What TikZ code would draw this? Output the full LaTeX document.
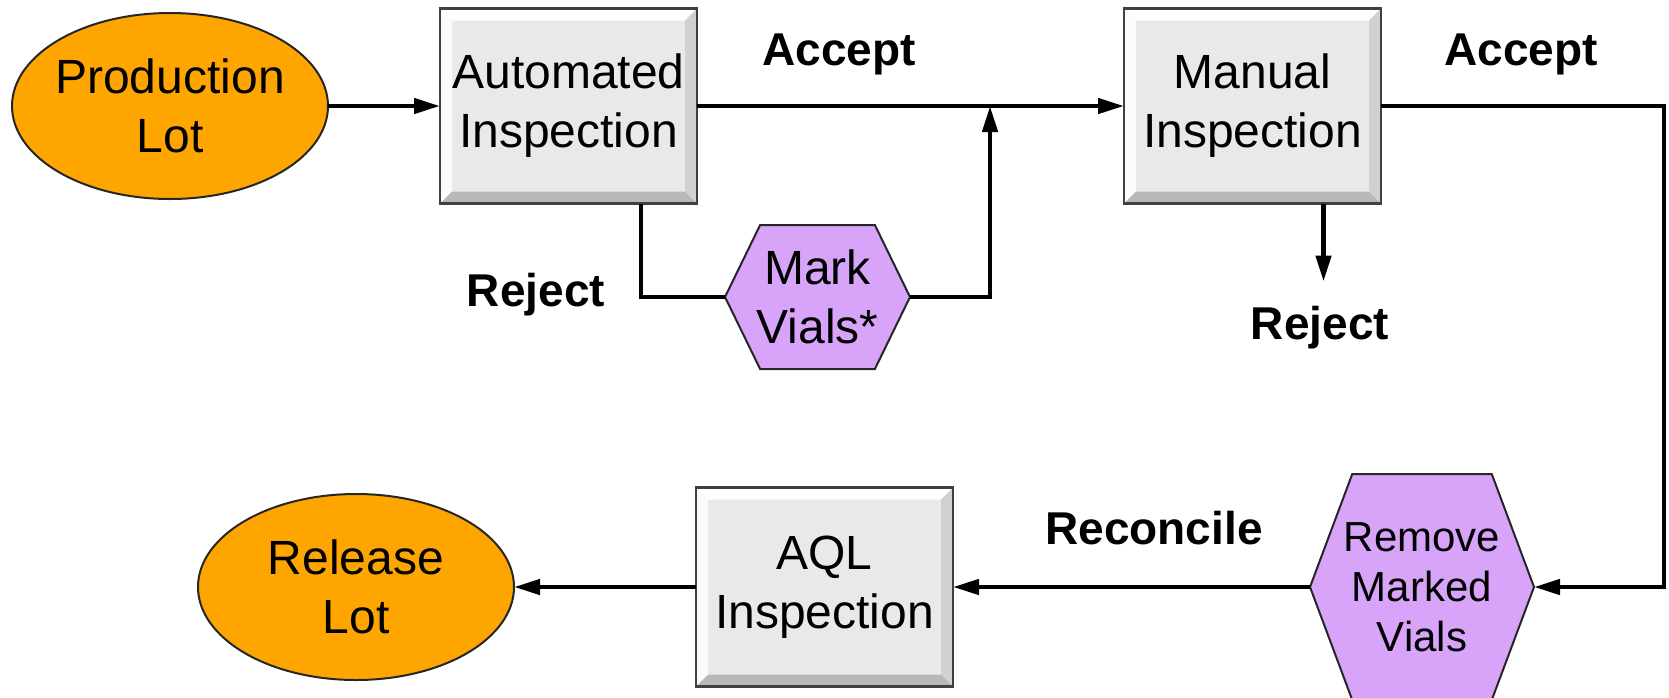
\documentclass[tikz,border=0pt]{standalone}
\usepackage{fontspec}
\setmainfont{Liberation Sans}
\usetikzlibrary{arrows.meta,positioning,shapes.geometric,shapes.symbols}
\definecolor{lotorange}{RGB}{255,165,0}
\definecolor{boxgray}{RGB}{233,233,233}
\definecolor{vialpurple}{RGB}{216,164,250}
\tikzset{%
    >={Triangle[length=26pt,width=15pt]},
    lot/.style={ellipse,draw=black!85,line width=2pt,fill=lotorange,minimum width=316pt,minimum height=186pt,
        align=center,inner xsep=-15pt,inner ysep=0pt,outer sep=0pt,font=\fontsize{48}{59}\selectfont},
    stage/.style={rectangle,draw=black!75,line width=2.5pt,fill=boxgray,minimum width=257pt,minimum height=195pt,
        align=center,outer sep=0pt,font=\fontsize{48}{59}\selectfont,
        path picture={
            \fill [white] (path picture bounding box.north west) -- (path picture bounding box.north east)
                -- ([shift={(-12pt,-12pt)}]path picture bounding box.north east)
                -- ([shift={(12pt,-12pt)}]path picture bounding box.north west) -- cycle;
            \fill [white!80!boxgray] (path picture bounding box.north west) -- ([shift={(12pt,-12pt)}]path picture bounding box.north west)
                -- ([shift={(12pt,12pt)}]path picture bounding box.south west) -- (path picture bounding box.south west) -- cycle;
            \fill [black!28] (path picture bounding box.south west) -- (path picture bounding box.south east)
                -- ([shift={(-12pt,12pt)}]path picture bounding box.south east)
                -- ([shift={(12pt,12pt)}]path picture bounding box.south west) -- cycle;
            \fill [black!18] (path picture bounding box.north east) -- ([shift={(-12pt,-12pt)}]path picture bounding box.north east)
                -- ([shift={(-12pt,12pt)}]path picture bounding box.south east) -- (path picture bounding box.south east) -- cycle;
        }},
    vial/.style={signal,signal to=west and east,draw=black!85,line width=2pt,fill=vialpurple,
        align=center,inner ysep=0pt,outer sep=0pt},
    tag/.style={font=\fontsize{46}{56}\selectfont\bfseries},
    flow/.style={line width=4.5pt}
}
\begin{document}
\begin{tikzpicture}[x=1pt,y=-1pt]
\useasboundingbox (0,0) rectangle (1669,697);
% top row
\node [lot] (prod) at (170,106) {Production\\Lot};
\node [stage,right=112pt of prod] (auto) {Automated\\Inspection};
\node [stage,right=427pt of auto] (manual) {Manual\\Inspection};
\node [vial,minimum width=185pt,minimum height=144pt,signal pointer angle=128,inner xsep=-5pt,
       font=\fontsize{48}{59}\selectfont] (mark) at (817.5,297) {Mark\\Vials*};
% bottom row
\node [stage,minimum height=199pt] (aql) at (824.5,587) {AQL\\Inspection};
\node [lot,left=182pt of aql] (release) {Release\\Lot};
\node [vial,minimum width=224pt,minimum height=226pt,signal pointer angle=139,inner xsep=-9pt,
       font=\fontsize{42}{50}\selectfont] (remove) at (1422,587) {Remove\\Marked\\Vials};
% labels
\node [tag] (acc1) at (839,54) {Accept};
\node [tag] (acc2) at (1521,54) {Accept};
\node [tag] (rej1) at (536,295) {Reject};
\node [tag] (rej2) at (1320,328) {Reject};
\node [tag] (recon) at (1154,528) {Reconcile};
\coordinate (join) at (990,106);
\coordinate [below=78pt of manual.south,xshift=71pt] (drop);
\coordinate (edge) at (1664,106);
%%%%%
\draw [flow,->] (prod) -- (auto);
\draw [flow,->] (auto) -- (manual);
\draw [flow] ([xshift=72.5pt]auto.south) |- (mark.west);
\draw [flow,->] (mark.east) -| (join);
\draw [flow,->] ([xshift=71pt]manual.south) -- (drop);
\draw [flow,->] (manual.east) -- (edge) |- (remove.east);
\draw [flow,->] (remove.west) -- (aql.east);
\draw [flow,->] (aql.west) -- (release.east);
\end{tikzpicture}
\end{document}
